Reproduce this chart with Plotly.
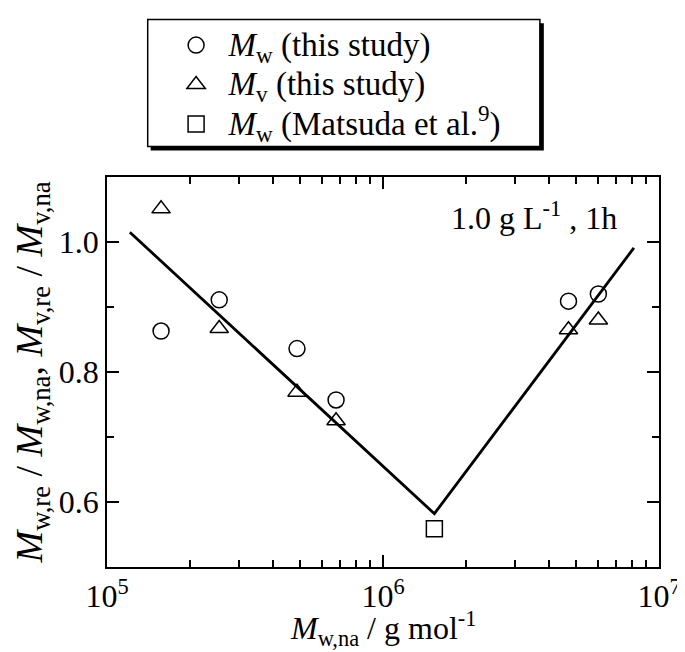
import plotly.graph_objects as go

#%% data

# Mw (this study)
mw_x = [1.57e5, 2.55e5, 4.88e5, 6.76e5, 4.70e6, 6.03e6]
mw_y = [0.863, 0.911, 0.836, 0.757, 0.909, 0.920]

# Mv (this study)
mv_x = [1.57e5, 2.55e5, 4.88e5, 6.76e5, 4.70e6, 6.03e6]
mv_y = [1.051, 0.867, 0.769, 0.725, 0.865, 0.880]

# Mw (Matsuda et al.)
ref_x = [1.535e6]
ref_y = [0.559]

# guide line (V shape)
line_x = [1.21e5, 1.535e6, 8.11e6]
line_y = [1.015, 0.582, 0.991]

x_ticks = [1e5, 1e6, 1e7]
x_ticktext = ['10<sup>5</sup>', '10<sup>6</sup>', '10<sup>7</sup>']
x_minor = [m * 10 ** e for e in (5, 6) for m in range(2, 10)]
y_ticks = [0.6, 0.8, 1.0]
y_minor = [0.5, 0.7, 0.9, 1.1]

#%% figure

FONT = 'Liberation Serif, Times New Roman, serif'
mk = dict(color='black', size=16, line=dict(width=1.5, color='black'))

# legend rows are spaced by the legend font; draw the text itself a bit larger
def big(s):
    return '<span style="font-size:33px">' + s + '</span>'

fig = go.Figure()

fig.add_trace(go.Scatter(x=line_x, y=line_y, mode='lines',
                         line=dict(color='black', width=2.8),
                         showlegend=False, hoverinfo='skip'))

fig.add_trace(go.Scatter(x=mw_x, y=mw_y, mode='markers',
                         marker=dict(symbol='circle-open', **mk),
                         name=big('<i>M</i><sub>w</sub> (this study)')))
fig.add_trace(go.Scatter(x=mv_x, y=mv_y, mode='markers',
                         marker=dict(symbol='triangle-up-open', **mk),
                         name=big('<i>M</i><sub>v</sub> (this study)')))
fig.add_trace(go.Scatter(x=ref_x, y=ref_y, mode='markers',
                         marker=dict(symbol='square-open', **mk),
                         name=big('<i>M</i><sub>w</sub> (Matsuda et al.<sup>9</sup>)')))

# legend frame with drop shadow (paper coords relative to plot area)
L, R, T, B = 97, 653, 163, 559
def px(x):
    return (x - L) / (R - L)
def py(y):
    return (B - y) / (B - T)

fig.add_shape(type='rect', xref='paper', yref='paper',
              x0=px(141), x1=px(537), y0=py(136), y1=py(7),
              fillcolor='black', line=dict(width=0), layer='above')
fig.add_shape(type='rect', xref='paper', yref='paper',
              x0=px(138), x1=px(533), y0=py(132), y1=py(3),
              fillcolor='white', line=dict(color='black', width=1.5), layer='above')

fig.add_annotation(text='1.0 g L<sup>-1</sup> , 1h', xref='paper', yref='paper',
                   x=px(527), y=py(203), xanchor='center', yanchor='middle',
                   showarrow=False,
                   font=dict(family=FONT, size=32, color='black'))

# x axis title
fig.add_annotation(text='<i>M</i><sub>w,na</sub> / g mol<sup>-1</sup>',
                   xref='paper', yref='paper', x=px(375), y=py(646),
                   xanchor='center', yanchor='bottom', showarrow=False,
                   font=dict(family=FONT, size=32, color='black'))

fig.update_layout(
    width=685, height=652,
    margin=dict(l=L, r=685 - R, t=T, b=652 - B),
    paper_bgcolor='white', plot_bgcolor='white',
    font=dict(family=FONT, size=32, color='black'),
    legend=dict(x=px(154), y=py(4), xanchor='left', yanchor='top',
                bgcolor='rgba(0,0,0,0)', borderwidth=0, itemwidth=55,
                font=dict(family=FONT, size=28), tracegroupgap=0),
    showlegend=True,
)

fig.update_xaxes(type='log', range=[5, 7],
                 tickvals=x_ticks, ticktext=x_ticktext,
                 ticks='inside', ticklen=12, tickwidth=1.5, tickcolor='black',
                 minor=dict(tickvals=x_minor, ticks='inside', ticklen=7,
                            tickwidth=1.5, tickcolor='black'),
                 showline=True, linecolor='black', linewidth=1.5, mirror='ticks',
                 showgrid=False, zeroline=False)

fig.update_yaxes(range=[0.5, 1.1],
                 tickvals=y_ticks, ticktext=['0.6', '0.8', '1.0'],
                 ticks='inside', ticklen=12, tickwidth=1.5, tickcolor='black',
                 minor=dict(tickvals=y_minor, ticks='inside', ticklen=7,
                            tickwidth=1.5, tickcolor='black'),
                 showline=True, linecolor='black', linewidth=1.5, mirror='ticks',
                 showgrid=False, zeroline=False,
                 title=dict(text='<i>M</i><sub>w,re</sub> / <i>M</i><sub>w,na</sub>, '
                                 '<i>M</i><sub>v,re</sub> / <i>M</i><sub>v,na</sub>',
                            standoff=12))

fig.write_html("out.html")
